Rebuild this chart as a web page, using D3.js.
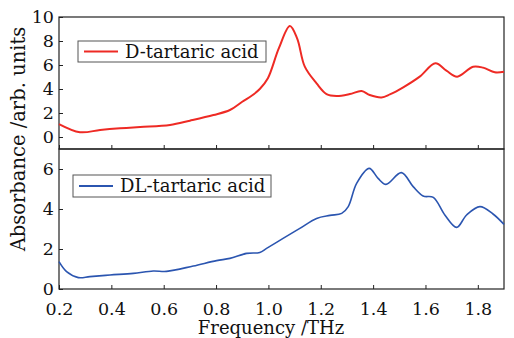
<!DOCTYPE html>
<html>
<head>
<meta charset="utf-8">
<script src="https://cdn.jsdelivr.net/npm/d3@7.9.0/dist/d3.min.js"></script>
<style>
  body { margin: 0; background: #fff; }
  text { font-family: "DejaVu Serif", "Liberation Serif", serif; fill: #111; }
</style>
</head>
<body>
<svg width="514" height="338"></svg>
<script>
// D-tartaric acid (top panel)
const dFreq = [0.2, 0.28, 0.357, 0.433, 0.51, 0.624, 0.70, 0.79, 0.853, 0.90, 0.94, 0.967, 0.998, 1.04, 1.082, 1.11, 1.139, 1.184, 1.222, 1.26, 1.311, 1.356, 1.387, 1.432, 1.464, 1.515, 1.578, 1.638, 1.68, 1.721, 1.782, 1.82, 1.865, 1.9];
const dAbs  = [1.08, 0.4, 0.58, 0.72, 0.83, 1.0, 1.36, 1.83, 2.25, 2.94, 3.5, 4.0, 4.9, 7.4, 9.25, 8.2, 5.86, 4.47, 3.58, 3.42, 3.58, 3.83, 3.5, 3.3, 3.55, 4.14, 5.03, 6.14, 5.53, 5.03, 5.86, 5.78, 5.39, 5.44];

// DL-tartaric acid (bottom panel)
const dlFreq = [0.2, 0.229, 0.274, 0.318, 0.395, 0.484, 0.56, 0.611, 0.713, 0.802, 0.853, 0.917, 0.967, 0.993, 1.056, 1.12, 1.184, 1.235, 1.28, 1.305, 1.337, 1.385, 1.419, 1.449, 1.508, 1.553, 1.591, 1.63, 1.674, 1.719, 1.757, 1.808, 1.858, 1.9];
const dlAbs  = [1.37, 0.87, 0.57, 0.62, 0.7, 0.78, 0.9, 0.88, 1.15, 1.42, 1.53, 1.78, 1.83, 2.03, 2.53, 3.03, 3.53, 3.68, 3.78, 4.12, 5.28, 6.03, 5.53, 5.23, 5.82, 5.12, 4.65, 4.58, 3.7, 3.08, 3.7, 4.12, 3.75, 3.23];

const xTicks = [0.2, 0.4, 0.6, 0.8, 1.0, 1.2, 1.4, 1.6, 1.8];
const topTicks = [0, 2, 4, 6, 8, 10];
const botTicks = [0, 2, 4, 6];

const svg = d3.select('svg');
const left = 59, right = 504;

const x = d3.scaleLinear().domain([0.2, 1.9]).range([left, right]);
const yTop = d3.scaleLinear().domain([-1, 10]).range([149, 17]);
const yBot = d3.scaleLinear().domain([0, 7]).range([289, 149]);

function panel(y, ticks, xs, ys, color, width, label, box, showXLabels) {
  const g = svg.append('g');
  const [y0, y1] = y.range();

  // x axis ticks (inward)
  const xa = g.append('g').attr('transform', `translate(0,${y0})`)
    .call(d3.axisBottom(x).tickValues(xTicks).tickSizeInner(-4).tickSizeOuter(0)
      .tickFormat(showXLabels ? d3.format('.1f') : ''));
  xa.select('.domain').remove();
  xa.selectAll('line').attr('stroke', '#222');
  xa.selectAll('text').attr('font-size', 17.5).attr('dy', '1.0em').attr('y', 8);

  const ya = g.append('g').attr('transform', `translate(${left},0)`)
    .call(d3.axisLeft(y).tickValues(ticks).tickSizeInner(-4).tickSizeOuter(0).tickFormat(d3.format('d')));
  ya.select('.domain').remove();
  ya.selectAll('line').attr('stroke', '#222');
  ya.selectAll('text').attr('font-size', 17.5).attr('x', -5).attr('dy', '0.33em');

  // frame
  g.append('rect').attr('x', left).attr('y', y1)
    .attr('width', right - left).attr('height', y0 - y1)
    .attr('fill', 'none').attr('stroke', '#222').attr('stroke-width', 1.2);

  const line = d3.line().x((d, i) => x(xs[i])).y((d, i) => y(ys[i]))
    .curve(d3.curveCatmullRom.alpha(0.5));
  g.append('path').datum(xs).attr('d', line)
    .attr('fill', 'none').attr('stroke', color).attr('stroke-width', width);

  // legend
  g.append('rect').attr('x', box[0]).attr('y', box[1]).attr('width', box[2]).attr('height', box[3])
    .attr('fill', '#fff').attr('stroke', '#555').attr('stroke-width', 1);
  const ly = box[1] + box[3] / 2;
  g.append('line').attr('x1', box[0] + 6).attr('x2', box[0] + 40).attr('y1', ly).attr('y2', ly)
    .attr('stroke', color).attr('stroke-width', 2);
  g.append('text').attr('x', box[0] + 47).attr('y', ly).attr('dy', '0.35em')
    .attr('font-size', 18).text(label);
}

panel(yTop, topTicks, dFreq, dAbs, '#ee2a24', 2, 'D-tartaric acid', [78, 41, 188, 21], false);
panel(yBot, botTicks, dlFreq, dlAbs, '#2b55b0', 1.6, 'DL-tartaric acid', [73, 175, 198, 22], true);

svg.append('text').attr('transform', 'translate(25,139) rotate(-90)')
  .attr('text-anchor', 'middle').attr('font-size', 19.5).text('Absorbance /arb. units');
svg.append('text').attr('x', 271).attr('y', 334)
  .attr('text-anchor', 'middle').attr('font-size', 18).text('Frequency /THz');
</script>
</body>
</html>
